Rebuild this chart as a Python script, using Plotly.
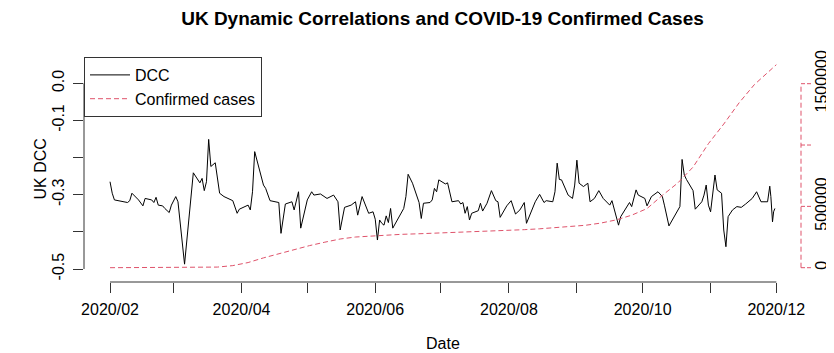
import plotly.graph_objects as go

# ---------------- data ----------------
dcc_dates = [
    "2020-02-01", "2020-02-02", "2020-02-03", "2020-02-06", "2020-02-09", "2020-02-10",
    "2020-02-11", "2020-02-14", "2020-02-16", "2020-02-17", "2020-02-20", "2020-02-21",
    "2020-02-22", "2020-02-23", "2020-02-25", "2020-02-26", "2020-02-28", "2020-02-29",
    "2020-03-02", "2020-03-03", "2020-03-06", "2020-03-10", "2020-03-13", "2020-03-14",
    "2020-03-15", "2020-03-16", "2020-03-17", "2020-03-18", "2020-03-20", "2020-03-22",
    "2020-03-24", "2020-03-28", "2020-03-30", "2020-03-31", "2020-04-04", "2020-04-05",
    "2020-04-06", "2020-04-07", "2020-04-09", "2020-04-11", "2020-04-12", "2020-04-14",
    "2020-04-18", "2020-04-19", "2020-04-21", "2020-04-24", "2020-04-25", "2020-04-27",
    "2020-04-28", "2020-05-01", "2020-05-03", "2020-05-04", "2020-05-07", "2020-05-10",
    "2020-05-13", "2020-05-15", "2020-05-16", "2020-05-18", "2020-05-21", "2020-05-23",
    "2020-05-24", "2020-05-26", "2020-05-29", "2020-05-31", "2020-06-01", "2020-06-02",
    "2020-06-03", "2020-06-04", "2020-06-05", "2020-06-06", "2020-06-07", "2020-06-08",
    "2020-06-09", "2020-06-11", "2020-06-14", "2020-06-15", "2020-06-16", "2020-06-18",
    "2020-06-20", "2020-06-21", "2020-06-22", "2020-06-23", "2020-06-26", "2020-06-27",
    "2020-06-28", "2020-06-29", "2020-06-30", "2020-07-03", "2020-07-04", "2020-07-06",
    "2020-07-09", "2020-07-10", "2020-07-11", "2020-07-12", "2020-07-13", "2020-07-14",
    "2020-07-15", "2020-07-18", "2020-07-19", "2020-07-20", "2020-07-22", "2020-07-24",
    "2020-07-26", "2020-07-27", "2020-07-28", "2020-07-31", "2020-08-02", "2020-08-04",
    "2020-08-06", "2020-08-08", "2020-08-09", "2020-08-11", "2020-08-13", "2020-08-15",
    "2020-08-17", "2020-08-18", "2020-08-21", "2020-08-22", "2020-08-23", "2020-08-24",
    "2020-08-25", "2020-08-28", "2020-08-30", "2020-08-31", "2020-09-01", "2020-09-02",
    "2020-09-04", "2020-09-06", "2020-09-07", "2020-09-09", "2020-09-11", "2020-09-13",
    "2020-09-16", "2020-09-17", "2020-09-19", "2020-09-20", "2020-09-21", "2020-09-23",
    "2020-09-25", "2020-09-26", "2020-09-28", "2020-09-29", "2020-10-02", "2020-10-03",
    "2020-10-05", "2020-10-08", "2020-10-10", "2020-10-11", "2020-10-13", "2020-10-18",
    "2020-10-19", "2020-10-20", "2020-10-21", "2020-10-24", "2020-10-25", "2020-10-28",
    "2020-10-29", "2020-10-30", "2020-10-31", "2020-11-01", "2020-11-02", "2020-11-03",
    "2020-11-04", "2020-11-06", "2020-11-07", "2020-11-08", "2020-11-09", "2020-11-11",
    "2020-11-13", "2020-11-15", "2020-11-17", "2020-11-20", "2020-11-22", "2020-11-24",
    "2020-11-27", "2020-11-28 00:00", "2020-11-28 12:00", "2020-11-29 06:00",
    "2020-11-29 18:00", "2020-11-30 08:00",
]
dcc_values = [
    -0.265, -0.296, -0.314, -0.317, -0.321, -0.316,
    -0.296, -0.314, -0.330, -0.310, -0.314, -0.321,
    -0.307, -0.328, -0.330, -0.337, -0.348, -0.328,
    -0.305, -0.319, -0.487, -0.241, -0.268, -0.256,
    -0.289, -0.265, -0.151, -0.224, -0.214, -0.296,
    -0.305, -0.316, -0.350, -0.339, -0.328, -0.341,
    -0.292, -0.184, -0.229, -0.274, -0.283, -0.316,
    -0.321, -0.404, -0.325, -0.319, -0.341, -0.292,
    -0.390, -0.314, -0.292, -0.301, -0.298, -0.310,
    -0.301, -0.319, -0.395, -0.334, -0.328, -0.319,
    -0.355, -0.305, -0.350, -0.346, -0.366, -0.422,
    -0.368, -0.377, -0.382, -0.357, -0.375, -0.337,
    -0.390, -0.368, -0.337, -0.305, -0.245, -0.269,
    -0.305, -0.321, -0.364, -0.323, -0.321, -0.314,
    -0.283, -0.292, -0.260, -0.271, -0.268, -0.319,
    -0.316, -0.325, -0.321, -0.350, -0.332, -0.368,
    -0.350, -0.343, -0.323, -0.344, -0.323, -0.289,
    -0.316, -0.319, -0.361, -0.330, -0.316, -0.352,
    -0.341, -0.321, -0.377, -0.346, -0.319, -0.299,
    -0.321, -0.316, -0.319, -0.292, -0.215, -0.259,
    -0.260, -0.301, -0.310, -0.274, -0.207, -0.269,
    -0.278, -0.269, -0.319, -0.310, -0.289, -0.310,
    -0.328, -0.316, -0.359, -0.382, -0.359, -0.341,
    -0.321, -0.332, -0.287, -0.301, -0.310, -0.330,
    -0.305, -0.292, -0.305, -0.330, -0.384, -0.332,
    -0.205, -0.247, -0.259, -0.289, -0.339, -0.319,
    -0.301, -0.274, -0.328, -0.346, -0.292, -0.247,
    -0.287, -0.296, -0.395, -0.440, -0.359, -0.341,
    -0.332, -0.334, -0.325, -0.310, -0.292, -0.319,
    -0.319, -0.277, -0.305, -0.373,
    -0.346, -0.337,
]

case_dates = [
    "2020-02-01", "2020-02-08", "2020-02-15", "2020-02-22", "2020-02-29", "2020-03-07",
    "2020-03-14", "2020-03-21", "2020-03-28", "2020-04-04", "2020-04-11", "2020-04-18",
    "2020-04-25", "2020-05-02", "2020-05-09", "2020-05-16", "2020-05-23", "2020-05-30",
    "2020-06-06", "2020-06-13", "2020-06-20", "2020-06-27", "2020-07-04", "2020-07-11",
    "2020-07-18", "2020-07-25", "2020-08-01", "2020-08-08", "2020-08-15", "2020-08-22",
    "2020-08-29", "2020-09-05", "2020-09-12", "2020-09-19", "2020-09-26", "2020-10-03",
    "2020-10-10", "2020-10-17", "2020-10-24", "2020-10-31", "2020-11-07", "2020-11-14",
    "2020-11-21", "2020-11-28", "2020-12-01",
]
case_values = [
    0, 0, 0, 0, 0, 200,
    1100, 5000, 17000, 42000, 80000, 114000,
    148000, 180000, 208000, 234000, 250000, 259000,
    266000, 272000, 276000, 280000, 285000, 289000,
    294000, 299000, 304000, 310000, 317000, 325000,
    334000, 346000, 364000, 390000, 428000, 482000,
    590000, 690000, 820000, 1011000, 1171000, 1344000,
    1493000, 1606000, 1655000,
]

x_tick_dates = ["2020-02-01", "2020-03-01", "2020-04-01", "2020-05-01", "2020-06-01",
                "2020-07-01", "2020-08-01", "2020-09-01", "2020-10-01", "2020-11-01",
                "2020-12-01"]
x_tick_labels = ["2020/02", "", "2020/04", "", "2020/06", "", "2020/08", "",
                 "2020/10", "", "2020/12"]
y_tick_vals = [-0.5, -0.4, -0.3, -0.2, -0.1, 0.0]
y_tick_labels = ["-0.5", "", "-0.3", "", "-0.1", "0.0"]
y2_tick_vals = [0, 500000, 1000000, 1500000]
y2_tick_labels = ["0", "500000", "", "1500000"]

# ---------------- styling ----------------
FONT = "Liberation Sans, Arial, Helvetica, sans-serif"
RED = "#DF536B"
AXC = "#333333"
# the page body has an 8px margin: the figure is sized/offset to compensate
FIG_W, FIG_H = 826, 345
M_L, M_R, M_T, M_B = 76, 33, 49, 71
PLOT_W = FIG_W - M_L - M_R
PLOT_H = FIG_H - M_T - M_B

fig = go.Figure()
fig.add_trace(go.Scatter(x=dcc_dates, y=dcc_values, mode="lines", name="DCC",
                         line=dict(color="black", width=1), yaxis="y"))
fig.add_trace(go.Scatter(x=case_dates, y=case_values, mode="lines", name="Confirmed cases",
                         line=dict(color=RED, width=1, dash="5px,3px"), yaxis="y2"))

shapes = []
# R-style axis lines spanning first to last tick
shapes.append(dict(type="line", xref="x", yref="paper", x0=x_tick_dates[0], x1=x_tick_dates[-1],
                   y0=0, y1=0, line=dict(color=AXC, width=1)))
shapes.append(dict(type="line", xref="paper", yref="y", x0=0, x1=0,
                   y0=y_tick_vals[0], y1=y_tick_vals[-1], line=dict(color=AXC, width=1)))
shapes.append(dict(type="line", xref="paper", yref="y2", x0=1, x1=1,
                   y0=y2_tick_vals[0], y1=y2_tick_vals[-1], line=dict(color=RED, width=1, dash="5px,3px")))
for v in y2_tick_vals:
    shapes.append(dict(type="line", xref="paper", yref="y2", x0=1, x1=1 + 10 / PLOT_W,
                       y0=v, y1=v, line=dict(color=RED, width=1, dash="4px,2px")))

fig.update_layout(
    width=FIG_W, height=FIG_H, autosize=False,
    margin=dict(l=M_L, r=M_R, t=M_T, b=M_B, autoexpand=False),
    paper_bgcolor="white", plot_bgcolor="white",
    font=dict(family=FONT, size=16, color="black"),
    showlegend=True,
    legend=dict(x=0, y=1, xanchor="left", yanchor="top", bgcolor="white",
                bordercolor=AXC, borderwidth=1, font=dict(size=16), tracegroupgap=0,
                itemwidth=40),
    title=dict(text="UK Dynamic Correlations and COVID-19 Confirmed Cases",
               x=0.5, xref="paper", xanchor="center", y=1 - 10 / FIG_H, yref="container",
               yanchor="middle", font=dict(family=FONT, size=19, color="black", weight="bold")),
    xaxis=dict(type="date", range=["2020-01-20 03:00", "2020-12-12 06:00"],
               tickvals=x_tick_dates, ticktext=x_tick_labels, automargin=False,
               ticks="outside", ticklen=10, tickcolor=AXC, showgrid=False, zeroline=False,
               showline=False, ticklabelstandoff=3),
    yaxis=dict(range=[-0.535, 0.0708], tickvals=y_tick_vals, ticktext=y_tick_labels,
               tickangle=-90, ticks="outside", ticklen=10, tickcolor=AXC, showgrid=False,
               zeroline=False, showline=False, ticklabelstandoff=3, automargin=False),
    yaxis2=dict(range=[-116600, 1717700], overlaying="y", side="right",
                tickvals=y2_tick_vals, ticktext=y2_tick_labels, tickangle=-90,
                ticks="", showgrid=False, zeroline=False, showline=False,
                ticklabelstandoff=9, automargin=False),
    shapes=shapes,
    annotations=[
        dict(text="Date", xref="paper", yref="paper", x=0.5, y=(282 - 343) / PLOT_H,
             xanchor="center", yanchor="middle", showarrow=False, font=dict(size=16)),
        dict(text="UK DCC", xref="paper", yref="paper", x=(40 - 84) / PLOT_W, y=0.5,
             xanchor="center", yanchor="middle", textangle=-90, showarrow=False,
             font=dict(size=16)),
    ],
)

fig.write_html("out.html")
